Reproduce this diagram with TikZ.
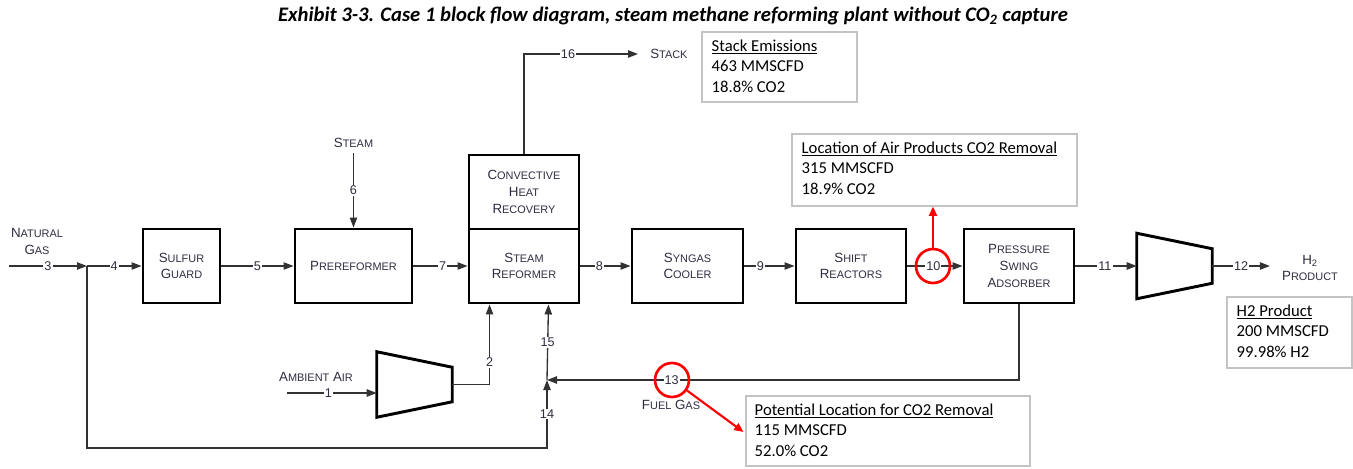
\documentclass[tikz,border=0pt]{standalone}
\usepackage{fontspec}
\setmainfont{Liberation Sans}
\newfontfamily\calib{Carlito}
\usetikzlibrary{arrows.meta,calc}
\definecolor{lbl}{RGB}{45,45,65}
\definecolor{ln}{RGB}{50,50,50}
\definecolor{cbox}{RGB}{195,195,195}
\newcommand\sca[2]{{\fontsize{10}{12.5}\selectfont #1}{\fontsize{8.2}{12.5}\selectfont #2}}
\begin{document}
\begin{tikzpicture}[x=0.75pt,y=-0.75pt,
 blk/.style={draw=black,line width=2.2pt,inner sep=0pt,align=center,text=lbl,font=\fontsize{10}{12.5}\selectfont},
 flow/.style={draw=ln,line width=1pt,-{Triangle[length=7.5pt,width=5.5pt]}},
 num/.style={fill=white,inner sep=0.8pt,text=lbl,font=\fontsize{9.5}{10}\selectfont},
 tag/.style={text=lbl,inner sep=0pt,align=center,font=\fontsize{10}{12.5}\selectfont},
 note/.style={draw=cbox,line width=0.8pt,inner sep=0pt,fill=white},
 notetxt/.style={anchor=north west,inner sep=0pt,align=left,font=\calib\fontsize{12.5}{15.4}\selectfont},
 ring/.style={circle,draw=red,line width=2pt,minimum size=25.5pt,inner sep=0pt},
 redarr/.style={draw=red,line width=1.6pt,-{Triangle[length=7pt,width=6pt]}},
 compbox/.style={inner sep=0pt,minimum width=56.25pt,minimum height=48.75pt},
 comp/.style={draw=black,line width=2.2pt,line join=miter}]
\useasboundingbox (0,0) rectangle (1353,468);

% title
\node[inner sep=0pt,font=\calib\bfseries\itshape\fontsize{15.5}{17}\selectfont] (title) at (673,16)
  {Exhibit 3-3. Case 1 block flow diagram, steam methane reforming plant without CO\textsubscript{2} capture};

% blocks
\node[blk,minimum width=57.75pt,minimum height=55.5pt] (sg) at (181.5,266) {\sca{S}{ULFUR}\\\sca{G}{UARD}};
\node[blk,minimum width=87.75pt,minimum height=55.5pt] (pre) at (353.5,266) {\sca{P}{REREFORMER}};
\node[blk,minimum width=82.5pt,minimum height=55.5pt] (chr) at (524,192) {\sca{C}{ONVECTIVE}\\\sca{H}{EAT}\\\sca{R}{ECOVERY}};
\node[blk,minimum width=82.5pt,minimum height=55.5pt] (sr) at (524,266) {\sca{S}{TEAM}\\\sca{R}{EFORMER}};
\node[blk,minimum width=83.25pt,minimum height=55.5pt] (sc) at (687.5,266) {\sca{S}{YNGAS}\\\sca{C}{OOLER}};
\node[blk,minimum width=82.5pt,minimum height=55.5pt] (shift) at (851,266) {\sca{S}{HIFT}\\\sca{R}{EACTORS}};
\node[blk,minimum width=82.5pt,minimum height=55.5pt] (psa) at (1019,266) {\sca{P}{RESSURE}\\\sca{S}{WING}\\\sca{A}{DSORBER}};

% compressors
\node[compbox] (comp2) at (1174.5,266) {};
\draw[comp] (comp2.north west) -- ($(comp2.north east)+(0,15.5)$) -- ($(comp2.south east)+(0,-15.5)$) -- (comp2.south west) -- cycle;
\node[compbox] (comp1) at (414.5,384.5) {};
\draw[comp] (comp1.north west) -- ($(comp1.north east)+(0,15.5)$) -- ($(comp1.south east)+(0,-15.5)$) -- (comp1.south west) -- cycle;

% text tags
\node[tag] (ng) at (37,241.5) {\sca{N}{ATURAL}\\\sca{G}{AS}};
\node[tag] (steam) at (353.5,143) {\sca{S}{TEAM}};
\node[tag] (amb) at (316,377) {\sca{A}{MBIENT} \sca{A}{IR}};
\node[tag,anchor=west] (stack) at (650,54) {\sca{S}{TACK}};
\node[tag] (fuel) at (671,405) {\sca{F}{UEL} \sca{G}{AS}};
\node[tag] (h2p) at (1310,268) {H\textsubscript{2}\\\sca{P}{RODUCT}};

% junctions / free ends
\coordinate (ngstart) at (9,266);
\coordinate (jng) at (87,266);
\coordinate (j15) at (547,380);
\coordinate (s1start) at (287,393);

% streams
\draw[flow] (ngstart) -- node[num]{3} (jng);
\draw[flow] (jng) -- node[num]{4} (sg.west);
\draw[flow] (sg.east) -- node[num]{5} (pre.west);
\draw[flow] (pre.east) -- node[num,pos=0.54]{7} (sr.west);
\draw[flow] (steam.south) ++(0,5) -- node[num,pos=0.5]{6} (pre.north);
\draw[flow] (sr.east) -- node[num,pos=0.38]{8} (sc.west);
\draw[flow] (sc.east) -- node[num,pos=0.32]{9} (shift.west);
\draw[flow] (shift.east) -- node[num,pos=0.47]{10} (psa.west);
\draw[flow] (psa.east) -- node[num,pos=0.48]{11} (comp2.west);
\draw[flow] (comp2.east) -- node[num,pos=0.5]{12} ($(h2p.west)+(-12,-2)$);
\draw[flow] (chr.north) |- node[num,pos=0.693]{16} ($(stack.west)+(-12,0)$);
\draw[flow] (s1start) -- node[num,pos=0.46]{1} ($(comp1.west)+(0,8.5)$);
\draw[flow] (comp1.east) -| node[num,pos=0.64]{2} ($(sr.south west)+(22,0)$);
\draw[flow] (psa.south) |- node[num,pos=0.868]{13} (j15);
\draw[flow] (jng) |- ($(j15)+(0,68)$) -- node[num]{14} (j15);
\draw[flow] (j15) -- node[num]{15} ($(sr.south east)+(-32,0)$);

% callout boxes
\node[note,minimum width=116.25pt,minimum height=52.5pt] (stackbox) at (779.5,67) {};
\node[notetxt] (stacktxt) at ($(stackbox.north west)+(10,8)$) {\underline{Stack Emissions}\\463 MMSCFD\\18.8\% CO2};
\node[note,minimum width=213.75pt,minimum height=54pt] (loc) at (934.5,170) {};
\node[notetxt] (loctxt) at ($(loc.north west)+(10,8)$) {\underline{Location of Air Products CO2 Removal}\\315 MMSCFD\\18.9\% CO2};
\node[note,minimum width=93.75pt,minimum height=53.25pt] (h2box) at (1289.5,332.5) {};
\node[notetxt] (h2txt) at ($(h2box.north west)+(10,8)$) {\underline{H2 Product}\\200 MMSCFD\\99.98\% H2};
\node[note,minimum width=213pt,minimum height=52.5pt] (pot) at (888,431) {};
\node[notetxt] (pottxt) at ($(pot.north west)+(9,8)$) {\underline{Potential Location for CO2 Removal}\\115 MMSCFD\\52.0\% CO2};

% red markers
\node[ring] (r10) at (933,266) {};
\node[ring] (r13) at (672,380) {};
\draw[redarr] (r10.north) -- (r10.north |- loc.south);
\draw[redarr] (r13.-35) -- ($(pot.west)+(-2,1)$);
\end{tikzpicture}
\end{document}
